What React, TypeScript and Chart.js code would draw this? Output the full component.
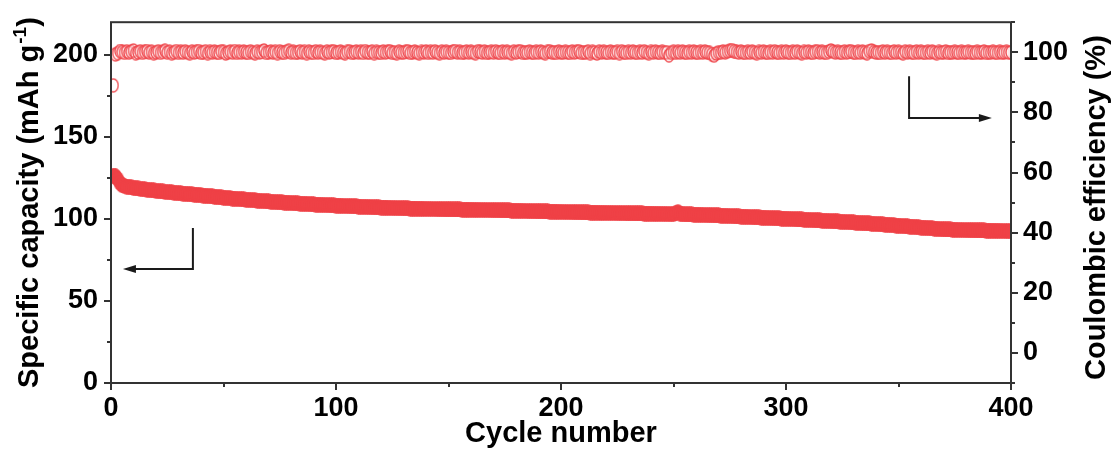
import React, { useEffect, useRef } from "react";
import { Chart, registerables } from "chart.js";

Chart.register(...registerables);

// Specific capacity (mAh g-1), cycles 1..400
const CAPACITY: number[] = [
  126.5, 126.0, 124.3, 122.0, 120.6, 120.1, 119.8, 119.5, 119.3, 119.0, 118.8, 118.6, 118.4, 118.3, 118.1, 117.9, 117.7, 117.6, 117.4, 117.2,
  117.1, 116.9, 116.8, 116.6, 116.5, 116.4, 116.2, 116.1, 115.9, 115.8, 115.7, 115.5, 115.4, 115.3, 115.1, 115.0, 114.9, 114.8, 114.6, 114.5,
  114.3, 114.2, 114.0, 113.9, 113.8, 113.6, 113.5, 113.3, 113.2, 113.0, 112.9, 112.8, 112.7, 112.5, 112.4, 112.3, 112.2, 112.1, 111.9, 111.8,
  111.7, 111.6, 111.5, 111.4, 111.2, 111.1, 111.0, 110.9, 110.8, 110.7, 110.6, 110.5, 110.4, 110.3, 110.2, 110.1, 110.0, 110.0, 109.9, 109.8,
  109.7, 109.6, 109.5, 109.4, 109.3, 109.3, 109.2, 109.1, 109.0, 108.9, 108.8, 108.8, 108.7, 108.6, 108.6, 108.5, 108.4, 108.4, 108.3, 108.2,
  108.2, 108.1, 108.0, 108.0, 107.9, 107.9, 107.8, 107.7, 107.7, 107.6, 107.5, 107.5, 107.4, 107.4, 107.3, 107.2, 107.2, 107.1, 107.1, 107.0,
  107.0, 106.9, 106.9, 106.8, 106.8, 106.7, 106.7, 106.6, 106.6, 106.6, 106.5, 106.5, 106.4, 106.4, 106.4, 106.3, 106.3, 106.3, 106.2, 106.2,
  106.2, 106.1, 106.1, 106.1, 106.0, 106.0, 106.0, 105.9, 105.9, 105.9, 105.9, 105.8, 105.8, 105.8, 105.8, 105.7, 105.7, 105.7, 105.7, 105.7,
  105.6, 105.6, 105.6, 105.6, 105.5, 105.5, 105.5, 105.5, 105.4, 105.4, 105.4, 105.3, 105.3, 105.3, 105.2, 105.2, 105.2, 105.1, 105.1, 105.1,
  105.0, 105.0, 105.0, 104.9, 104.9, 104.8, 104.8, 104.8, 104.7, 104.7, 104.7, 104.6, 104.6, 104.6, 104.5, 104.5, 104.5, 104.4, 104.4, 104.4,
  104.3, 104.3, 104.3, 104.2, 104.2, 104.2, 104.1, 104.1, 104.1, 104.0, 104.0, 104.0, 103.9, 103.9, 103.9, 103.9, 103.8, 103.8, 103.8, 103.8,
  103.7, 103.7, 103.7, 103.7, 103.6, 103.6, 103.6, 103.6, 103.5, 103.5, 103.5, 103.5, 103.4, 103.4, 103.4, 103.4, 103.3, 103.3, 103.3, 103.3,
  103.2, 103.2, 103.2, 103.2, 103.1, 103.1, 103.1, 103.0, 103.0, 103.0, 103.4, 104.2, 103.3, 102.9, 102.9, 102.8, 102.8, 102.8, 102.7, 102.7,
  102.6, 102.6, 102.5, 102.5, 102.4, 102.4, 102.3, 102.3, 102.2, 102.2, 102.1, 102.0, 102.0, 101.9, 101.8, 101.8, 101.7, 101.6, 101.6, 101.5,
  101.4, 101.4, 101.3, 101.2, 101.2, 101.1, 101.0, 101.0, 100.9, 100.8, 100.8, 100.7, 100.6, 100.6, 100.5, 100.4, 100.4, 100.3, 100.2, 100.2,
  100.1, 100.0, 100.0, 99.9, 99.8, 99.7, 99.7, 99.6, 99.5, 99.5, 99.4, 99.3, 99.2, 99.2, 99.1, 99.0, 98.9, 98.9, 98.8, 98.7,
  98.6, 98.6, 98.5, 98.4, 98.3, 98.2, 98.2, 98.1, 98.0, 97.9, 97.8, 97.7, 97.6, 97.5, 97.4, 97.4, 97.3, 97.2, 97.1, 97.0,
  96.9, 96.8, 96.7, 96.6, 96.5, 96.4, 96.3, 96.2, 96.0, 95.9, 95.8, 95.7, 95.6, 95.5, 95.4, 95.3, 95.2, 95.1, 94.9, 94.8,
  94.7, 94.6, 94.5, 94.4, 94.3, 94.2, 94.1, 93.9, 93.8, 93.7, 93.7, 93.6, 93.6, 93.5, 93.5, 93.4, 93.4, 93.3, 93.3, 93.2,
  93.2, 93.2, 93.1, 93.1, 93.1, 93.0, 93.0, 93.0, 92.9, 92.9, 92.9, 92.9, 92.8, 92.8, 92.8, 92.7, 92.7, 92.7, 92.6, 92.6,
];

// Coulombic efficiency (%), cycles 1..400
const EFFICIENCY: number[] = [
  89.0, 99.3, 99.7, 100.4, 100.1, 99.8, 100.3, 99.9, 100.2, 100.6, 99.7, 100.0, 100.3, 99.8, 100.1, 100.4, 99.9, 100.2, 99.7, 100.0,
  100.3, 99.8, 100.1, 100.5, 99.9, 100.2, 99.7, 100.0, 100.4, 99.8, 100.1, 99.9, 100.3, 100.0, 99.7, 100.2, 99.9, 100.1, 100.4, 99.8,
  100.0, 100.3, 99.7, 100.1, 99.9, 100.2, 100.0, 99.8, 100.3, 100.1, 99.6, 100.0, 100.2, 99.9, 100.4, 99.8, 100.1, 99.9, 100.2, 100.0,
  99.8, 100.3, 100.0, 99.7, 100.2, 99.9, 100.1, 100.6, 99.8, 100.0, 100.2, 99.9, 100.1, 99.7, 100.3, 100.0, 99.8, 100.2, 100.5, 99.9,
  100.1, 99.8, 100.0, 100.3, 99.9, 100.1, 99.7, 100.2, 100.0, 99.8, 100.3, 99.9, 100.1, 100.0, 99.7, 100.2, 99.9, 100.1, 100.3, 99.8,
  100.0, 100.2, 99.9, 99.7, 100.1, 100.3, 99.8, 100.0, 100.2, 99.9, 100.1, 99.8, 100.4, 100.0, 99.9, 100.2, 99.7, 100.1, 100.0, 99.8,
  100.2, 99.9, 100.1, 100.3, 99.8, 100.0, 99.7, 100.2, 100.0, 99.9, 100.1, 100.3, 99.8, 100.0, 100.2, 99.9, 99.7, 100.1, 100.0, 100.2,
  99.8, 100.1, 99.9, 100.3, 100.0, 99.7, 100.2, 99.9, 100.1, 100.0, 99.8, 100.2, 100.4, 99.9, 100.1, 99.8, 100.0, 100.2, 99.9, 100.1,
  100.0, 99.7, 100.3, 100.1, 99.9, 100.2, 99.8, 100.0, 100.1, 99.9, 100.3, 100.0, 99.8, 100.2, 99.9, 100.1, 100.0, 99.7, 100.2, 99.9,
  100.1, 100.3, 99.8, 100.0, 99.9, 100.2, 100.0, 99.8, 100.1, 99.9, 100.2, 100.0, 99.7, 100.1, 100.3, 99.9, 100.0, 99.8, 100.2, 100.0,
  99.9, 100.1, 100.0, 99.8, 100.2, 99.9, 100.1, 100.3, 99.8, 100.0, 99.9, 100.2, 99.7, 100.1, 100.0, 99.6, 100.2, 99.9, 100.1, 100.0,
  99.8, 100.2, 100.0, 99.9, 100.1, 99.7, 100.3, 100.0, 99.8, 100.1, 99.9, 100.2, 100.0, 99.8, 100.1, 99.9, 100.3, 100.0, 99.7, 100.1,
  99.9, 100.2, 100.0, 99.8, 100.1, 99.9, 100.0, 99.0, 99.8, 100.1, 99.8, 100.1, 99.9, 100.2, 100.0, 99.8, 100.1, 99.9, 100.2, 100.0,
  99.8, 100.1, 99.9, 100.2, 100.0, 99.8, 99.4, 98.9, 99.6, 100.0, 99.9, 100.2, 100.0, 100.3, 100.5, 100.7, 100.4, 100.1, 99.9, 100.2,
  100.0, 99.8, 100.1, 99.9, 100.2, 100.0, 99.7, 100.1, 99.9, 100.2, 100.0, 99.8, 100.1, 99.9, 100.3, 100.0, 99.8, 100.1, 99.9, 100.2,
  100.0, 99.8, 100.1, 99.9, 100.2, 100.0, 99.7, 100.1, 99.9, 100.2, 100.0, 99.8, 100.1, 100.3, 99.9, 100.1, 100.0, 99.8, 100.2, 100.6,
  100.2, 99.9, 100.1, 100.0, 99.8, 100.2, 99.9, 100.1, 100.3, 100.0, 99.8, 100.1, 99.9, 100.2, 100.0, 99.7, 100.4, 100.6, 100.1, 99.9,
  100.0, 99.8, 100.2, 99.9, 100.1, 100.0, 99.8, 100.2, 99.9, 100.1, 100.0, 99.7, 100.2, 99.9, 100.1, 100.0, 99.8, 100.2, 99.9, 100.1,
  100.0, 99.8, 100.1, 99.9, 100.2, 100.0, 99.7, 100.1, 99.9, 100.0, 100.2, 99.8, 100.0, 99.9, 100.1, 100.0, 99.8, 100.1, 99.9, 100.0,
  100.1, 99.9, 100.0, 99.8, 100.1, 99.9, 100.0, 100.2, 99.8, 100.0, 99.9, 100.1, 100.0, 99.8, 100.1, 99.9, 100.0, 100.1, 99.9, 100.0,
];

const X_TICKS = [0, 100, 200, 300, 400];
const X_MINOR = [50, 150, 250, 350];
const LEFT_TICKS = [0, 50, 100, 150, 200];
const LEFT_MINOR = [25, 75, 125, 175];
const RIGHT_TICKS = [0, 20, 40, 60, 80, 100];
const RIGHT_MINOR = [-10, 10, 30, 50, 70, 90, 110];

const X_TITLE = "Cycle number";
const LEFT_TITLE = ["Specific capacity (mAh g", "-1", ")"];
const RIGHT_TITLE = "Coulombic efficiency (%)";

// arrow annotations in data units: corner path
const LEFT_ARROW_X = [36.4, 36.4, 5.3];
const LEFT_ARROW_Y = [94.5, 69.5, 69.5];
const RIGHT_ARROW_X = [354.7, 354.7, 391.5];
const RIGHT_ARROW_Y = [92.0, 78.1, 78.1];

const FONT = "'Liberation Sans', Arial, Helvetica, sans-serif";
const AXIS = "#333333";
const RED = "#EF4146";

function ellipse(w: number, h: number, fill: string, stroke: string | null, lw: number) {
  const c = document.createElement("canvas");
  c.width = w;
  c.height = h;
  const ctx = c.getContext("2d")!;
  ctx.beginPath();
  ctx.ellipse(w / 2, h / 2, w / 2 - lw / 2 - 0.2, h / 2 - lw / 2 - 0.2, 0, 0, Math.PI * 2);
  ctx.fillStyle = fill;
  ctx.fill();
  if (stroke) {
    ctx.lineWidth = lw;
    ctx.strokeStyle = stroke;
    ctx.stroke();
  }
  return c;
}

const decor = {
  id: "decor",
  afterDraw(chart: any) {
    const ctx = chart.ctx as CanvasRenderingContext2D;
    const { left, right, top, bottom } = chart.chartArea;
    const sx = chart.scales.x;
    const sy = chart.scales.y;
    const sr = chart.scales.y1;
    ctx.save();
    ctx.strokeStyle = AXIS;
    ctx.lineWidth = 2;
    ctx.strokeRect(left, top, right - left, bottom - top);
    ctx.beginPath();
    X_MINOR.forEach((v) => {
      const p = Math.round(sx.getPixelForValue(v));
      ctx.moveTo(p, bottom);
      ctx.lineTo(p, bottom + 4);
    });
    LEFT_MINOR.forEach((v) => {
      const p = Math.round(sy.getPixelForValue(v));
      ctx.moveTo(left, p);
      ctx.lineTo(left - 4, p);
    });
    RIGHT_MINOR.forEach((v) => {
      const p = Math.round(sr.getPixelForValue(v));
      ctx.moveTo(right, p);
      ctx.lineTo(right + 4, p);
    });
    ctx.stroke();

    const drawArrow = (xs: number[], ys: number[], yScale: any) => {
      const pts = xs.map((x, i) => [sx.getPixelForValue(x), yScale.getPixelForValue(ys[i])]);
      ctx.strokeStyle = "#1a1a1a";
      ctx.fillStyle = "#1a1a1a";
      ctx.lineWidth = 2;
      ctx.beginPath();
      ctx.moveTo(pts[0][0], pts[0][1]);
      ctx.lineTo(pts[1][0], pts[1][1]);
      const [ex, ey] = pts[2];
      const dir = Math.sign(ex - pts[1][0]);
      ctx.lineTo(ex - dir * 8, ey);
      ctx.stroke();
      ctx.beginPath();
      ctx.moveTo(ex, ey);
      ctx.lineTo(ex - dir * 13, ey - 4);
      ctx.lineTo(ex - dir * 13, ey + 4);
      ctx.closePath();
      ctx.fill();
    };
    drawArrow(LEFT_ARROW_X, LEFT_ARROW_Y, sy);
    drawArrow(RIGHT_ARROW_X, RIGHT_ARROW_Y, sr);

    ctx.fillStyle = "#000";
    ctx.textBaseline = "alphabetic";
    ctx.textAlign = "left";
    const mainFont = `bold 29px ${FONT}`;
    const supFont = `bold 19px ${FONT}`;
    ctx.font = mainFont;
    const w1 = ctx.measureText(LEFT_TITLE[0]).width;
    const w3 = ctx.measureText(LEFT_TITLE[2]).width;
    ctx.font = supFont;
    const w2 = ctx.measureText(LEFT_TITLE[1]).width;
    const total = w1 + w2 + w3 + 1;
    const cy = (top + bottom) / 2;
    ctx.save();
    ctx.translate(38, cy);
    ctx.rotate(-Math.PI / 2);
    let x0 = -total / 2;
    ctx.font = mainFont;
    ctx.fillText(LEFT_TITLE[0], x0, 0);
    x0 += w1 + 1;
    ctx.font = supFont;
    ctx.fillText(LEFT_TITLE[1], x0, -12);
    x0 += w2;
    ctx.font = mainFont;
    ctx.fillText(LEFT_TITLE[2], x0, 0);
    ctx.restore();

    ctx.save();
    ctx.translate(1105, cy + 5);
    ctx.rotate(-Math.PI / 2);
    ctx.font = mainFont;
    ctx.textAlign = "center";
    ctx.fillText(RIGHT_TITLE, 0, 0);
    ctx.restore();

    ctx.restore();
  },
};

export default function App() {
  const ref = useRef<HTMLCanvasElement | null>(null);

  useEffect(() => {
    document.body.style.margin = "0";
    const capPoint = ellipse(13, 16, RED, null, 0);
    const cePoint = ellipse(12, 15, "rgba(255,255,255,0.4)", "rgba(238,66,72,0.9)", 1.5);
    const tickFont = { family: FONT, size: 27, weight: "bold" as const };
    const gridOpts = { drawOnChartArea: false, drawTicks: true, tickLength: 7, lineWidth: 2, color: AXIS };

    const chart = new Chart(ref.current!, {
      type: "scatter",
      data: {
        datasets: [
          {
            label: "Coulombic efficiency",
            data: EFFICIENCY.map((v, i) => ({ x: i + 1, y: v })),
            yAxisID: "y1",
            pointStyle: cePoint as any,
            pointRadius: 7,
            clip: 0 as any,
          },
          {
            label: "Specific capacity",
            data: CAPACITY.map((v, i) => ({ x: i + 1, y: v })),
            yAxisID: "y",
            pointStyle: capPoint as any,
            pointRadius: 7,
            clip: 0 as any,
          },
        ],
      },
      options: {
        animation: false,
        responsive: true,
        maintainAspectRatio: false,
        events: [],
        layout: { padding: { top: 22, left: 0, right: 0, bottom: 0 } },
        plugins: { legend: { display: false }, tooltip: { enabled: false } },
        scales: {
          x: {
            type: "linear",
            min: 0,
            max: 400,
            afterBuildTicks: (s: any) => {
              s.ticks = X_TICKS.map((v) => ({ value: v }));
            },
            afterFit: (s: any) => {
              s.height = 67;
            },
            ticks: { font: tickFont, color: "#000", padding: 2, maxRotation: 0, autoSkip: false },
            grid: gridOpts,
            border: { display: false },
            title: {
              display: true,
              text: X_TITLE,
              color: "#000",
              font: { family: FONT, size: 29, weight: "bold", lineHeight: 1.1 },
              padding: { top: 0, bottom: 0 },
            },
          },
          y: {
            type: "linear",
            position: "left",
            min: 0,
            max: 220,
            afterBuildTicks: (s: any) => {
              s.ticks = LEFT_TICKS.map((v) => ({ value: v }));
            },
            afterFit: (s: any) => {
              s.width = 111;
            },
            ticks: { font: tickFont, color: "#000", padding: 6, autoSkip: false },
            grid: gridOpts,
            border: { display: false },
          },
          y1: {
            type: "linear",
            position: "right",
            min: -10,
            max: 110,
            afterBuildTicks: (s: any) => {
              s.ticks = RIGHT_TICKS.map((v) => ({ value: v }));
            },
            afterFit: (s: any) => {
              s.width = 102;
            },
            ticks: { font: tickFont, color: "#000", padding: 5, autoSkip: false },
            grid: gridOpts,
            border: { display: false },
          },
        },
      },
      plugins: [decor],
    });
    return () => chart.destroy();
  }, []);

  return (
    <div style={{ position: "fixed", left: 0, top: 0, width: 1113, height: 450, background: "#fff" }}>
      <canvas ref={ref} />
    </div>
  );
}
